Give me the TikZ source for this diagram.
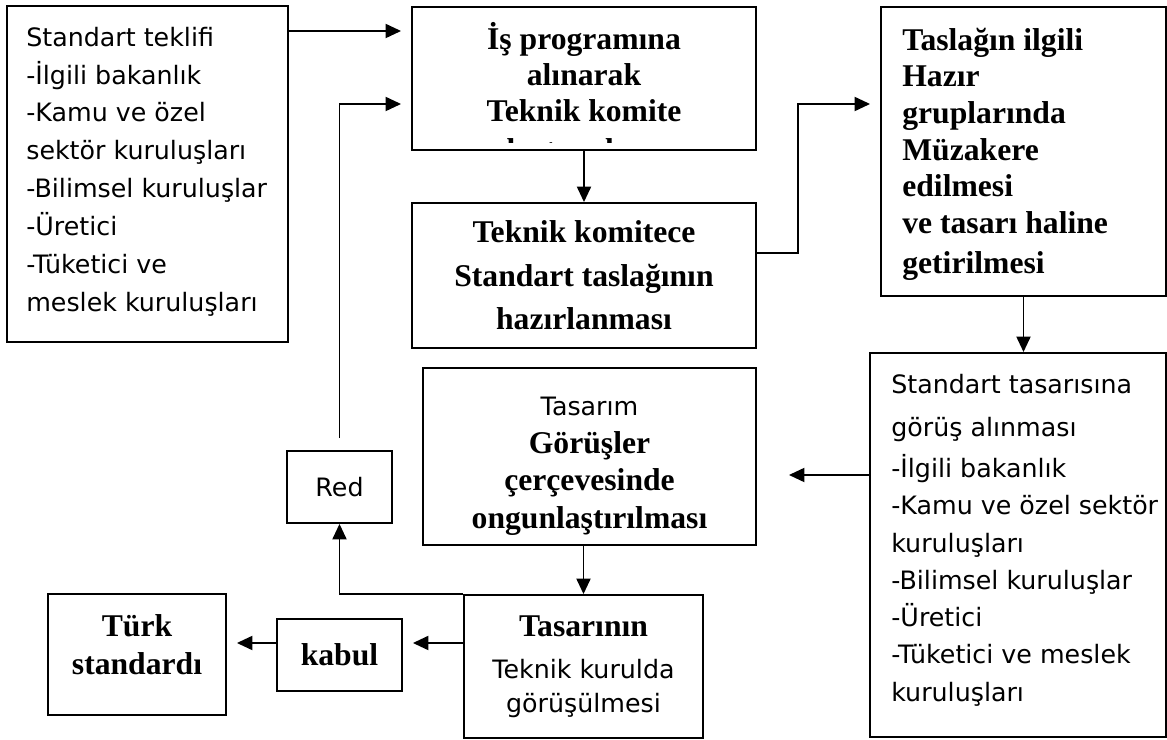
\documentclass[tikz,border=0pt]{standalone}
\usepackage{fontspec}
\setmainfont{Liberation Serif}
\newfontfamily\comicfont{DejaVu Sans}
\usetikzlibrary{calc,arrows.meta}
\tikzset{
    panel/.style={draw,line width=1.3pt,inner sep=0pt},
    flow/.style={-{Triangle[length=11pt,width=10pt]},line width=1.3pt},
    flow_gap/.style={shorten >=0.25cm},
    bold_text/.style={font=\bfseries\fontsize{22.5}{26}\selectfont,align=center},
    comic_text/.style={font=\comicfont\fontsize{18}{26.9}\selectfont,align=left,inner sep=0pt},
}
\newcommand{\cm}[1]{{\normalfont\comicfont\fontsize{18}{26.9}\selectfont #1}}

\begin{document}
\begin{tikzpicture}[x=0.025cm,y=-0.025cm]
  \useasboundingbox (0,0) rectangle (1167,740);
  % boxes
  \node[panel,minimum width=7.025cm,minimum height=8.4cm] (A) at (147.5,174) {};
  \node[comic_text,anchor=west] (A_text) at ($(A.west)+(20,-2.5)$)
    {Standart teklifi\\-İlgili bakanlık\\-Kamu ve özel\\sektör kuruluşları\\-Bilimsel kuruluşlar\\-Üretici\\-Tüketici ve\\meslek kuruluşları};
  \node[panel,minimum width=8.6cm,minimum height=3.575cm,
        path picture={
          \clip (path picture bounding box.north west) rectangle ([yshift=0.2cm]path picture bounding box.south east);
          \node[bold_text,font=\bfseries\fontsize{22.5}{25.5}\selectfont,anchor=north] (B_text)
            at ([yshift=-0.37cm]path picture bounding box.north)
            {İş programına\\alınarak\\Teknik komite\\[2.5pt]oluşturulması};}] (B) at (584,78.5) {};
  \node[panel,bold_text,font=\bfseries\fontsize{22.5}{31}\selectfont,
        minimum width=8.6cm,minimum height=3.625cm] (C) at (584,275.5)
    {Teknik komitece\\Standart taslağının\\hazırlanması};
  \node[panel,minimum width=7.125cm,minimum height=7.225cm] (D) at (1023.5,151.5) {};
  \node[bold_text,align=left,inner sep=0pt,anchor=west] (D_text) at ($(D.west)+(22,3)$)
    {Taslağın ilgili\\Hazır\\gruplarında\\Müzakere\\edilmesi\\ve tasarı haline\\[3pt]getirilmesi};
  \node[panel,minimum width=7.4cm,minimum height=9.6cm] (E) at (1018,545) {};
  \node[comic_text,font=\comicfont\fontsize{18}{26.5}\selectfont,anchor=west] (E_text) at ($(E.west)+(22,-5)$)
    {Standart tasarısına\\[4pt]görüş alınması\\[3pt]-İlgili bakanlık\\-Kamu ve özel sektör\\kuruluşları\\-Bilimsel kuruluşlar\\-Üretici\\-Tüketici ve meslek\\kuruluşları};
  \node[panel,bold_text,font=\bfseries\fontsize{22.5}{27}\selectfont,
        minimum width=8.325cm,minimum height=4.425cm] (F) at (589.5,456.5)
    {\mbox{}\\\cm{Tasarım}\\[0pt]Görüşler\\çerçevesinde\\ongunlaştırılması};
  \node[panel,bold_text,minimum width=5.975cm,minimum height=3.575cm] (G) at (583.5,666.5)
    {Tasarının\\[4pt]\cm{Teknik kurulda}\\[-2pt]\cm{görüşülmesi}};
  \node[panel,minimum width=2.625cm,minimum height=1.8cm] (Red) at (339.5,487) {\cm{Red}};
  \node[panel,bold_text,minimum width=3.125cm,minimum height=1.8cm] (kabul) at (339.5,655) {kabul};
  \node[panel,bold_text,font=\bfseries\fontsize{22.5}{27}\selectfont,
        minimum width=4.45cm,minimum height=3.025cm] (Turk) at (137,654.5)
    {Türk\\standardı\\[-13pt]\mbox{}};
  % connectors
  \draw[flow,flow_gap] (A.east |- 0,31) -- (B.west |- 0,31);
  \draw[flow,flow_gap,shorten <=0.3cm] (Red.north) -- (Red.north |- 0,104) -- (B.west |- 0,104);
  \draw[flow] (B.south) -- (C.north);
  \draw[flow,flow_gap] (C.east |- 0,253) -- ++(41,0) |- (D.west |- 0,104);
  \draw[flow] (D.south) -- (D.south |- E.north);
  \draw[flow,shorten >=0.8cm] (E.west |- 0,475) -- (F.east |- 0,475);
  \draw[flow] (G.north |- F.south) -- (G.north);
  \draw[flow] (G.north west) -| (Red.south);
  \draw[flow,flow_gap] (G.west |- 0,643) -- (kabul.east |- 0,643);
  \draw[flow,flow_gap] (kabul.west |- 0,643) -- (Turk.east |- 0,643);
\end{tikzpicture}
\end{document}
